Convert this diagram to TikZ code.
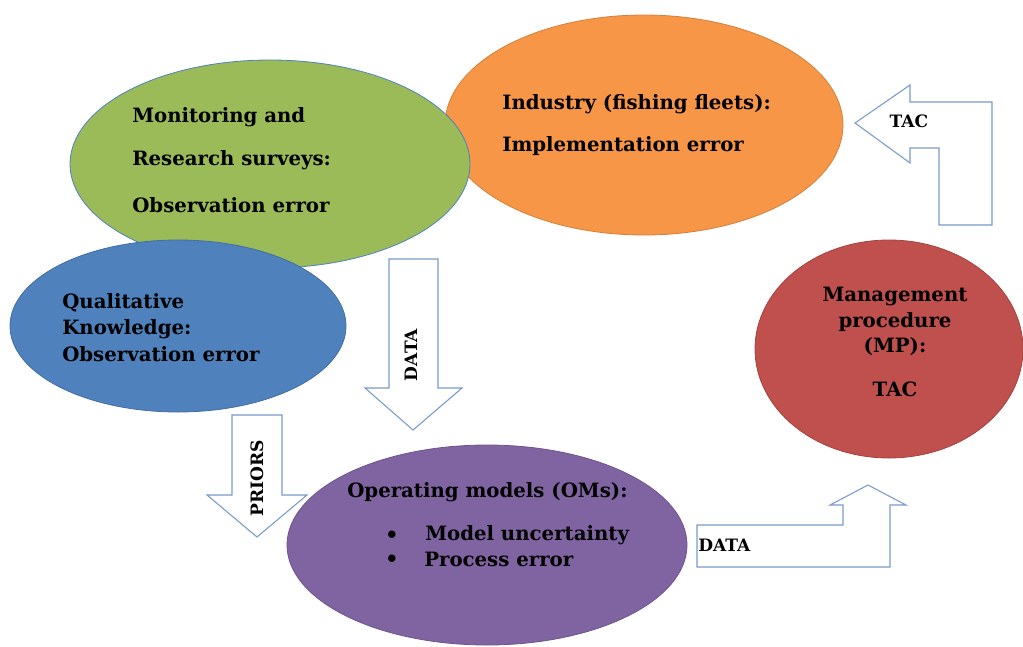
\documentclass[tikz,border=0pt]{standalone}
\usepackage{fontspec}
\setmainfont{DejaVu Serif}
\usetikzlibrary{shapes.geometric}
\definecolor{cgreen}{RGB}{155,187,89}
\definecolor{corange}{RGB}{247,150,70}
\definecolor{cblue}{RGB}{79,129,189}
\definecolor{cred}{RGB}{192,80,77}
\definecolor{cpurple}{RGB}{128,100,162}
\definecolor{cline}{RGB}{120,155,205}
\tikzset{
  blob/.style={ellipse, inner sep=0pt, draw=cblue, line width=0.6pt},
  lbl/.style={font=\bfseries\fontsize{14.8}{17}\selectfont, inner sep=0pt, anchor=west},
  clbl/.style={font=\bfseries\fontsize{14.8}{17}\selectfont, inner sep=0pt},
  blockarrow/.style={draw=cline, fill=white, line width=0.8pt, line join=miter},
  albl/.style={font=\bfseries\fontsize{12.8}{15}\selectfont, inner sep=0pt}
}
\begin{document}
\begin{tikzpicture}[x=0.75pt, y=-0.75pt]
\useasboundingbox (0,0) rectangle (1023,646);
% ellipses
\node[blob, fill=corange, draw=corange!85!black, minimum width=298.5pt, minimum height=165pt] (ind) at (644,125) {};
\node[blob, fill=cgreen, minimum width=300pt, minimum height=156pt] (mon) at (270,164) {};
\node[blob, fill=cblue, draw=cblue!85!black, minimum width=252pt, minimum height=129pt] (qual) at (178,326) {};
\node[blob, fill=cred, draw=cred!85!black, minimum width=201pt, minimum height=163.5pt] (mp) at (889,349) {};
% block arrows
\draw[blockarrow] (855,123) -- (910,85) -- (910,102) -- (992,102) -- (992,225) -- (939,225) -- (939,148) -- (910,148) -- (910,163) -- cycle;
\draw[blockarrow] (697,525) -- (843,525) -- (843,505) -- (830,505) -- (868,485) -- (906,505) -- (890,505) -- (890,567) -- (697,567) -- cycle;
\draw[blockarrow] (232,415) -- (282,415) -- (282,495) -- (307,495) -- (257,537) -- (207,495) -- (232,495) -- cycle;
\draw[blockarrow] (389,259) -- (438,259) -- (438,388) -- (462,388) -- (413,430) -- (365,388) -- (389,388) -- cycle;
\node[blob, fill=cpurple, draw=cpurple!85!black, minimum width=300pt, minimum height=150pt] (om) at (487,545) {};
% texts
\node[lbl] (m1) at (132,117) {Monitoring and};
\node[lbl] (m2) at (132,160) {Research surveys:};
\node[lbl] (m3) at (132,205) {Observation error};
\node[lbl] (i1) at (502,104) {Industry (fishing fleets):};
\node[lbl] (i2) at (502,146) {Implementation error};
\node[lbl] (q1) at (62,303) {Qualitative};
\node[lbl] (q2) at (62,329) {Knowledge:};
\node[lbl] (q3) at (62,354) {Observation error};
\node[clbl] (p1) at (895,296) {Management};
\node[clbl] (p2) at (895,322) {procedure};
\node[clbl] (p3) at (895,347) {(MP):};
\node[clbl] (p4) at (895,389) {TAC};
\node[lbl] (o1) at (347,492) {Operating models (OMs):};
\node[clbl] (b1) at (392,535) {$\bullet$};
\node[clbl] (b2) at (392,559) {$\bullet$};
\node[lbl] (o2) at (425,535) {Model uncertainty};
\node[lbl] (o3) at (424,559) {Process error};
% arrow labels
\node[albl] (t1) at (909,121) {TAC};
\node[albl, anchor=west] (d1) at (698,545) {DATA};
\node[albl, rotate=90] (pr) at (257,478) {PRIORS};
\node[albl, rotate=90] (d2) at (411,355) {DATA};
\end{tikzpicture}
\end{document}
